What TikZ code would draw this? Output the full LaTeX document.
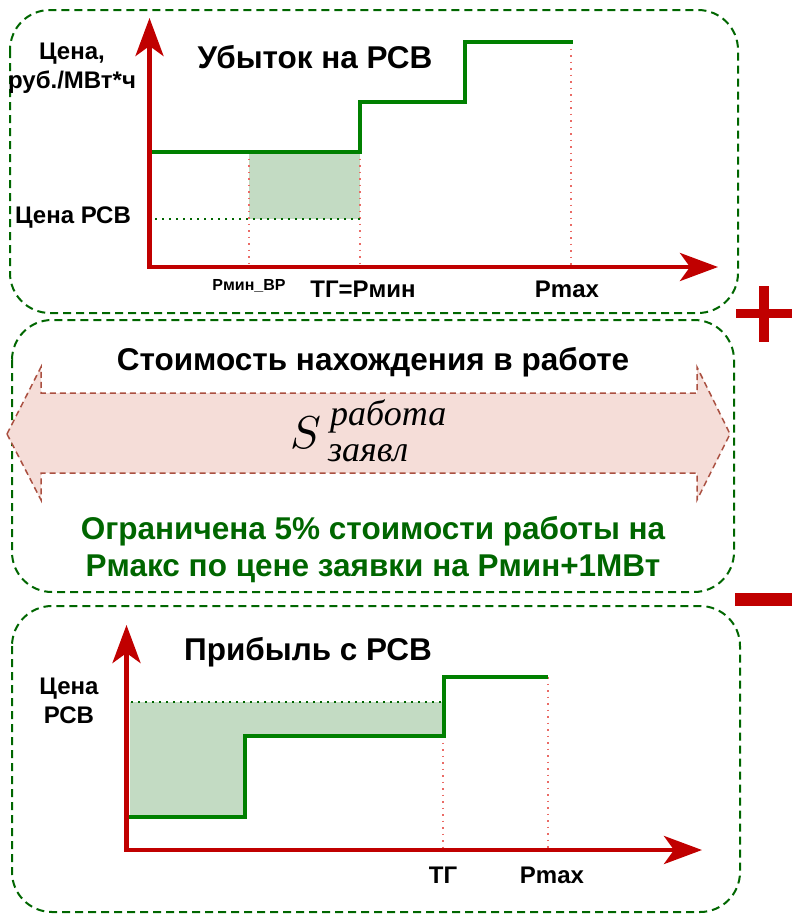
\documentclass[tikz,border=0pt]{standalone}
\usepackage{fontspec}
\usepackage{graphicx}
\setmainfont{Liberation Sans}
\newfontfamily\serfont{Liberation Serif}
\usetikzlibrary{arrows.meta}

\begin{document}
\begin{tikzpicture}[x=1pt,y=-1pt,
  panel/.style={draw=panelgreen,line width=2,dash pattern=on 8pt off 5pt,rounded corners=40},
  axis/.style={draw=axisred,line width=4.5,line cap=rect,-{Stealth[length=38pt,width=28pt,inset=10pt]}},
  steps/.style={draw=linegreen,line width=4},
  guide/.style={draw=guidered,line width=1.5,dash pattern=on 1.5pt off 5pt},
  level/.style={draw=panelgreen,line width=2,dash pattern=on 2pt off 5pt},
  lbl/.style={font=\bfseries\fontsize{24}{29}\selectfont,inner sep=0,align=center},
  ttl/.style={font=\bfseries\fontsize{31.5}{37}\selectfont,inner sep=0},
  scr/.style={font=\serfont\itshape\fontsize{36}{36}\selectfont,inner sep=0,anchor=base west}]
\definecolor{panelgreen}{RGB}{0,102,0}
\definecolor{linegreen}{RGB}{0,128,0}
\definecolor{areagreen}{RGB}{195,219,195}
\definecolor{axisred}{RGB}{192,0,0}
\definecolor{guidered}{RGB}{234,107,102}
\definecolor{arrowpink}{RGB}{245,221,216}
\definecolor{arrowbrown}{RGB}{170,80,65}
\useasboundingbox (0,0) rectangle (792,916);

\draw[panel] (10,10) rectangle (738,313);
\draw[panel] (12,320) rectangle (734,592);
\draw[panel] (12,606) rectangle (740,912);

\fill[axisred] (736,309) rectangle (792,318);
\fill[axisred] (759,286) rectangle (769,342);
\fill[axisred] (735,593) rectangle (792,606);

% loss chart
\fill[areagreen] (249,152) rectangle (360,219);
\foreach \gx/\gy in {249/152,360/152,571/42}
  {\draw[guide] (\gx,\gy) -- (\gx,267);}
\draw[level] (148,219) -- (360,219);
\draw[steps] (148,152) -- (360,152) -- (360,102) -- (465,102) -- (465,42) -- (573,42);
\coordinate (o1) at (149.5,267);
\coordinate (y1) at (149.5,18);
\coordinate (x1) at (718,267);
\draw[axis] (o1) -- (y1);
\draw[axis] (o1) -- (x1);
\node[lbl] (yname) at (72,68) {Цена,\\руб./МВт*ч};
\node[lbl,anchor=base] (price1) at (73,223) {Цена РСВ};
\node[ttl,anchor=base] (loss) at (315,68) {Убыток на РСВ};
\node[lbl,font=\bfseries\fontsize{16}{18}\selectfont,anchor=base] (pminvr) at (249,290) {Рмин\_ВР};
\node[lbl,anchor=base] (tgpmin) at (363,297) {ТГ=Рмин};
\node[lbl,anchor=base] (pmax1) at (567,297) {Pmax};

% running cost
\node[ttl,anchor=base] (cost) at (373,370) {Стоимость нахождения в работе};
\draw[fill=arrowpink,draw=arrowbrown,line width=1.5,dash pattern=on 6pt off 4pt]
  (7,434) -- (41,367) -- (41,393) -- (697,393) -- (697,367) -- (730,434)
  -- (697,500) -- (697,473) -- (41,473) -- (41,500) -- cycle;
\node[inner sep=0,anchor=base west] (sym) at (290,448) {\scalebox{4.6}{$S$}};
\node[scr] (symup) at (330,425) {работа};
\node[scr] (symdn) at (328,461) {заявл};
\node[ttl,font=\bfseries\fontsize{31.5}{37}\selectfont,text=panelgreen,align=center,anchor=base] (limit) at (373,576)
  {Ограничена 5\% стоимости работы на\\Рмакс по цене заявки на Рмин+1МВт};

% profit chart
\fill[areagreen] (130,702) -- (443,702) -- (443,736) -- (245,736) -- (245,817) -- (130,817) -- cycle;
\foreach \gx/\gy in {443/736,548/677}
  {\draw[guide] (\gx,\gy) -- (\gx,850);}
\draw[level] (124,702) -- (443,702);
\draw[steps] (127,817) -- (245,817) -- (245,736) -- (444,736) -- (444,677) -- (548,677);
\coordinate (o2) at (126.5,850);
\coordinate (y2) at (126.5,625);
\coordinate (x2) at (702,850);
\draw[axis] (o2) -- (y2);
\draw[axis] (o2) -- (x2);
\node[ttl,anchor=base] (profit) at (308,660) {Прибыль с РСВ};
\node[lbl] (price2) at (69,701) {Цена\\РСВ};
\node[lbl,anchor=base] (tg) at (443,883) {ТГ};
\node[lbl,anchor=base] (pmax2) at (552,883) {Pmax};
\end{tikzpicture}
\end{document}
